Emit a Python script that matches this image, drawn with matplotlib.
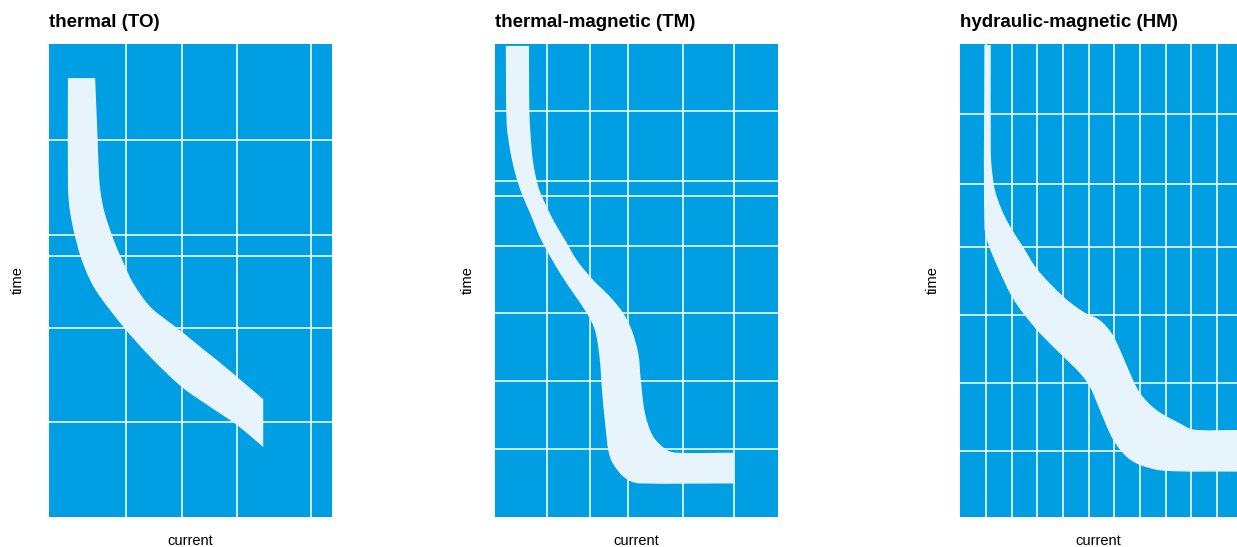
import matplotlib.pyplot as plt
from matplotlib.path import Path
from matplotlib.patches import PathPatch

plt.rcParams['font.family'] = ['Liberation Sans', 'DejaVu Sans']

BLUE = '#009fe3'
BAND = '#e8f4fc'

titles = ['thermal (TO)', 'thermal-magnetic (TM)', 'hydraulic-magnetic (HM)']

# grid positions (0-100 scale on both axes, time grows upwards)
to_grid_x = [27.1, 46.9, 66.4, 92.5]
to_grid_y = [20.1, 40.0, 55.2, 59.6, 79.7]
tm_grid_x = [18.5, 33.7, 47.1, 66.5, 84.5]
tm_grid_y = [14.4, 28.8, 43.1, 57.3, 67.9, 71.0, 85.8]
hm_grid_x = [9.4, 18.8, 27.8, 37.2, 46.5, 55.7, 65.0, 74.3, 83.5, 92.6]
hm_grid_y = [14.0, 28.3, 42.7, 57.1, 70.5, 85.3]

# tripping band: upper (slow) edge and lower (fast) edge
to_upper_x = [16.3, 17.2, 17.7, 18.3, 19.4, 21.2, 23.3, 25.9, 29.8, 35.7, 41.6, 46.3, 53.4, 59.3, 66.3, 75.7]
to_upper_y = [92.8, 79.7, 71.9, 68.4, 64.9, 61.4, 57.9, 54.3, 49.4, 44.5, 41.6, 39.5, 36.0, 33.2, 29.7, 24.9]
to_lower_x = [6.7, 6.7, 7.2, 8.4, 9.8, 11.6, 14.5, 18.0, 26.3, 35.7, 46.9, 56.9, 66.3, 75.7]
to_lower_y = [92.8, 70.0, 65.5, 61.4, 57.9, 54.3, 50.1, 46.6, 40.2, 33.9, 27.5, 23.3, 19.5, 14.8]

tm_upper_x = [12.0, 12.1, 12.5, 13.5, 15.3, 17.7, 21.2, 24.7, 28.9, 34.7, 40.6, 45.3, 48.3, 50.6, 51.5, 53.0,
              55.9, 60.7, 64.2, 84.5]
tm_upper_y = [99.6, 86.7, 81.1, 74.8, 69.8, 66.3, 62.1, 58.6, 54.3, 50.1, 46.6, 43.1, 39.5, 34.6, 29.0, 21.9,
              17.0, 14.2, 13.6, 13.6]
tm_lower_x = [3.8, 4.1, 5.3, 7.1, 9.4, 12.4, 16.3, 23.0, 27.7, 32.4, 35.3, 36.9, 37.7, 38.9, 40.6,
              44.2, 47.7, 51.2, 84.5]
tm_lower_y = [99.6, 83.2, 77.6, 72.7, 68.4, 64.2, 58.6, 51.5, 47.3, 43.1, 39.5, 33.9, 27.5, 19.8, 12.7,
              9.2, 7.6, 7.1, 7.1]

hm_upper_x = [11.1, 11.1, 11.4, 12.6, 15.1, 18.1, 22.9, 27.7, 37.3, 44.5, 50.5, 54.8, 57.8, 61.4, 65.0, 71.0,
              79.4, 84.2, 100]
hm_upper_y = [99.8, 77.6, 74.1, 69.1, 64.9, 61.4, 57.0, 52.5, 46.6, 43.4, 41.6, 38.8, 35.3, 30.4, 26.2, 22.6,
              19.8, 18.5, 18.4]
hm_lower_x = [8.8, 8.8, 10.2, 14.4, 18.7, 22.9, 28.9, 37.3, 43.3, 46.9, 50.5, 55.3, 60.2, 65.0, 73.4, 100]
hm_lower_y = [99.8, 61.4, 57.7, 51.8, 46.6, 43.0, 38.8, 33.9, 30.4, 27.5, 22.6, 16.3, 12.7, 11.0, 9.8, 9.6]

panels = [
    (to_grid_x, to_grid_y, to_upper_x, to_upper_y, to_lower_x, to_lower_y),
    (tm_grid_x, tm_grid_y, tm_upper_x, tm_upper_y, tm_lower_x, tm_lower_y),
    (hm_grid_x, hm_grid_y, hm_upper_x, hm_upper_y, hm_lower_x, hm_lower_y),
]

# axes boxes in figure fraction
boxes = [
    [0.0396, 0.0548, 0.2288, 0.8647],
    [0.4002, 0.0548, 0.2288, 0.8647],
    [0.7761, 0.0548, 0.2239, 0.8647],
]
ylab_x = [-0.085, -0.070, -0.072]
ASPECT = 1.67  # one y unit is this many x units on screen


def smooth_edge(xs, ys):
    # bezier segments through the read points, handle length tied to segment length
    pts = [(x, y * ASPECT) for x, y in zip(xs, ys)]
    n = len(pts)

    def tangent(k):
        a = pts[max(k - 1, 0)]
        b = pts[min(k + 1, n - 1)]
        dx, dy = b[0] - a[0], b[1] - a[1]
        d = (dx * dx + dy * dy) ** 0.5 or 1.0
        return dx / d, dy / d

    verts, codes = [], []
    for k in range(n - 1):
        p1, p2 = pts[k], pts[k + 1]
        seg = ((p2[0] - p1[0]) ** 2 + (p2[1] - p1[1]) ** 2) ** 0.5 / 3
        t1, t2 = tangent(k), tangent(k + 1)
        c1 = (p1[0] + t1[0] * seg, p1[1] + t1[1] * seg)
        c2 = (p2[0] - t2[0] * seg, p2[1] - t2[1] * seg)
        for v in (c1, c2, p2):
            verts.append((v[0], v[1] / ASPECT))
        codes += [Path.CURVE4] * 3
    return verts, codes


fig = plt.figure(figsize=(12.37, 5.47), dpi=100)

for i, (gx, gy, ux, uy, lx, ly) in enumerate(panels):
    ax = fig.add_axes(boxes[i])
    ax.set_facecolor(BLUE)
    ax.set_xlim(0, 100)
    ax.set_ylim(0, 100)
    ax.set_xticks(gx)
    ax.set_yticks(gy)
    ax.tick_params(length=0, labelbottom=False, labelleft=False)
    ax.grid(True, color='white', linewidth=1.1)
    ax.set_axisbelow(True)
    for s in ax.spines.values():
        s.set_visible(False)

    # upper edge from the top, straight cut, lower edge back up, close
    v1, c1 = smooth_edge(ux, uy)
    v2, c2 = smooth_edge(lx[::-1], ly[::-1])
    verts = [(ux[0], uy[0])] + v1 + [(lx[-1], ly[-1])] + v2 + [(ux[0], uy[0])]
    codes = [Path.MOVETO] + c1 + [Path.LINETO] + c2 + [Path.CLOSEPOLY]
    ax.add_patch(PathPatch(Path(verts, codes), facecolor=BAND, edgecolor='none', zorder=3))

    ax.set_title(titles[i], loc='left', fontsize=13.5, fontweight='bold', pad=12)
    ax.set_xlabel('current', fontsize=10.5)
    ax.set_ylabel('time', fontsize=10.5)
    ax.xaxis.set_label_coords(0.5, -0.035)
    ax.yaxis.set_label_coords(ylab_x[i], 0.5)

fig.savefig('out.png', dpi=100)
